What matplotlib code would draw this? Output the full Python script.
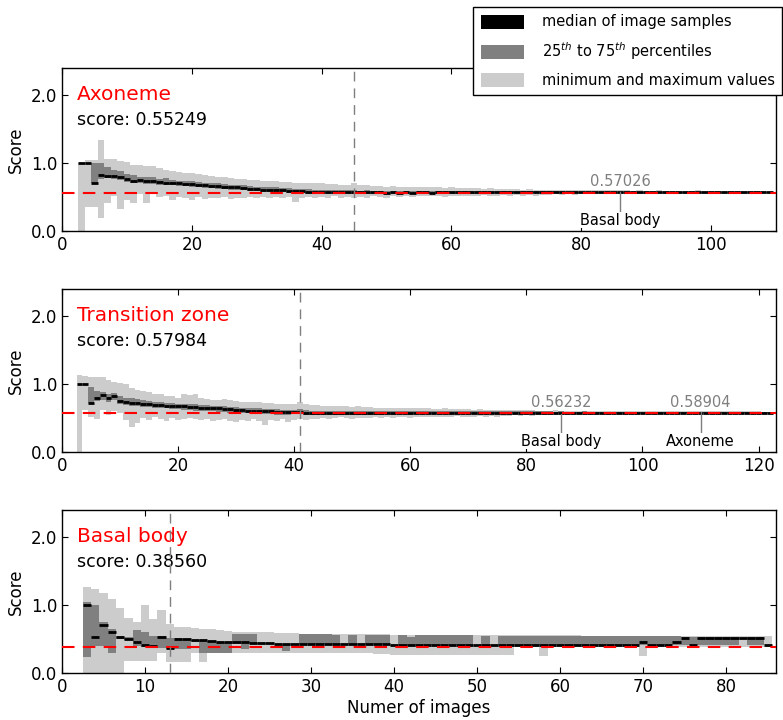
import numpy as np
import matplotlib
matplotlib.use("Agg")
import matplotlib.pyplot as plt
from matplotlib.patches import Patch

# ---------------- data ----------------
# Panel 1: Axoneme (x = 3 .. 109)
ax_min = [0.00, 0.36, 0.36, 0.19, 0.41, 0.51, 0.33, 0.46, 0.41, 0.55,
          0.41, 0.55, 0.50, 0.52, 0.46, 0.50, 0.48, 0.46, 0.50, 0.47,
          0.49, 0.48, 0.50, 0.47, 0.49, 0.48, 0.50, 0.48, 0.50, 0.49,
          0.50, 0.48, 0.50, 0.43, 0.49, 0.50, 0.48, 0.50, 0.49, 0.51,
          0.48, 0.50, 0.48, 0.50, 0.49, 0.51, 0.50, 0.49, 0.51, 0.50,
          0.51, 0.50, 0.52, 0.51, 0.51, 0.52, 0.50, 0.52, 0.51, 0.52,
          0.51, 0.52, 0.53, 0.51, 0.52, 0.53, 0.52, 0.53, 0.52, 0.53,
          0.52, 0.53, 0.53, 0.54, 0.53, 0.54, 0.53, 0.54, 0.54, 0.54,
          0.54, 0.55, 0.54, 0.55, 0.55, 0.54, 0.55, 0.55, 0.55, 0.54,
          0.55, 0.55, 0.55, 0.55, 0.55, 0.54, 0.55, 0.55, 0.56, 0.55,
          0.55, 0.56, 0.55, 0.56, 0.55, 0.56, 0.56]
ax_q25 = [1.00, 1.00, 0.70, 0.77, 0.78, 0.76, 0.75, 0.72, 0.70, 0.70,
          0.69, 0.69, 0.68, 0.67, 0.67, 0.66, 0.66, 0.65, 0.64, 0.63,
          0.63, 0.62, 0.62, 0.61, 0.61, 0.60, 0.59, 0.59, 0.58, 0.58,
          0.57, 0.57, 0.56, 0.56, 0.56, 0.55, 0.55, 0.55, 0.55, 0.54,
          0.54, 0.54, 0.55, 0.54, 0.54, 0.55, 0.54, 0.54, 0.55, 0.54,
          0.55, 0.54, 0.55, 0.55, 0.54, 0.55, 0.55, 0.55, 0.55, 0.55,
          0.55, 0.55, 0.55, 0.55, 0.56, 0.55, 0.55, 0.56, 0.55, 0.56,
          0.56, 0.56, 0.56, 0.56, 0.56, 0.56, 0.56, 0.56, 0.56, 0.56,
          0.56, 0.56, 0.56, 0.56, 0.56, 0.56, 0.56, 0.56, 0.56, 0.56,
          0.56, 0.56, 0.56, 0.56, 0.56, 0.56, 0.56, 0.56, 0.56, 0.56,
          0.56, 0.56, 0.56, 0.56, 0.56, 0.56, 0.56]
ax_med = [1.00, 1.00, 0.70, 0.83, 0.81, 0.81, 0.80, 0.76, 0.74, 0.75,
          0.74, 0.73, 0.72, 0.71, 0.71, 0.70, 0.69, 0.69, 0.68, 0.67,
          0.66, 0.66, 0.65, 0.64, 0.64, 0.63, 0.62, 0.62, 0.61, 0.61,
          0.60, 0.60, 0.59, 0.59, 0.59, 0.58, 0.58, 0.58, 0.58, 0.57,
          0.57, 0.57, 0.58, 0.57, 0.57, 0.57, 0.57, 0.56, 0.57, 0.56,
          0.57, 0.56, 0.57, 0.57, 0.56, 0.57, 0.57, 0.57, 0.57, 0.57,
          0.57, 0.57, 0.57, 0.57, 0.57, 0.57, 0.57, 0.57, 0.57, 0.57,
          0.57, 0.57, 0.57, 0.57, 0.58, 0.57, 0.57, 0.57, 0.57, 0.57,
          0.57, 0.57, 0.57, 0.57, 0.57, 0.57, 0.57, 0.57, 0.57, 0.57,
          0.57, 0.57, 0.57, 0.57, 0.57, 0.57, 0.57, 0.57, 0.57, 0.57,
          0.57, 0.57, 0.57, 0.57, 0.57, 0.57, 0.57]
ax_q75 = [1.00, 1.00, 1.00, 1.00, 0.94, 0.90, 0.88, 0.84, 0.82, 0.80,
          0.79, 0.79, 0.77, 0.78, 0.75, 0.74, 0.74, 0.73, 0.72, 0.71,
          0.70, 0.70, 0.69, 0.67, 0.68, 0.67, 0.66, 0.65, 0.65, 0.65,
          0.64, 0.63, 0.63, 0.62, 0.62, 0.62, 0.61, 0.61, 0.61, 0.60,
          0.60, 0.60, 0.60, 0.59, 0.60, 0.59, 0.59, 0.59, 0.59, 0.59,
          0.59, 0.59, 0.59, 0.59, 0.59, 0.59, 0.59, 0.59, 0.59, 0.59,
          0.59, 0.59, 0.59, 0.59, 0.59, 0.59, 0.59, 0.59, 0.59, 0.59,
          0.59, 0.59, 0.59, 0.59, 0.59, 0.58, 0.59, 0.58, 0.58, 0.58,
          0.58, 0.58, 0.58, 0.58, 0.58, 0.58, 0.58, 0.58, 0.58, 0.58,
          0.58, 0.58, 0.58, 0.58, 0.58, 0.58, 0.58, 0.58, 0.58, 0.58,
          0.58, 0.58, 0.58, 0.58, 0.58, 0.58, 0.58]
ax_max = [1.00, 1.05, 1.05, 1.34, 1.06, 1.06, 1.03, 1.02, 0.97, 0.97,
          0.96, 0.95, 0.92, 0.90, 0.88, 0.87, 0.86, 0.85, 0.84, 0.82,
          0.81, 0.80, 0.80, 0.78, 0.77, 0.76, 0.75, 0.75, 0.74, 0.73,
          0.73, 0.72, 0.72, 0.71, 0.71, 0.70, 0.70, 0.70, 0.69, 0.69,
          0.68, 0.68, 0.70, 0.67, 0.67, 0.66, 0.66, 0.65, 0.66, 0.65,
          0.65, 0.64, 0.65, 0.64, 0.64, 0.64, 0.63, 0.64, 0.63, 0.63,
          0.63, 0.63, 0.62, 0.63, 0.62, 0.62, 0.62, 0.62, 0.61, 0.62,
          0.61, 0.61, 0.61, 0.61, 0.61, 0.61, 0.60, 0.61, 0.60, 0.60,
          0.60, 0.60, 0.60, 0.60, 0.60, 0.59, 0.60, 0.59, 0.59, 0.60,
          0.59, 0.59, 0.59, 0.59, 0.59, 0.60, 0.59, 0.59, 0.59, 0.59,
          0.59, 0.59, 0.59, 0.59, 0.59, 0.59, 0.58]

# Panel 2: Transition zone (x = 3 .. 122)
tz_min = [0.00, 0.62, 0.52, 0.49, 0.62, 0.55, 0.60, 0.57, 0.47, 0.37,
          0.42, 0.50, 0.47, 0.52, 0.48, 0.46, 0.50, 0.47, 0.48, 0.50,
          0.49, 0.47, 0.48, 0.46, 0.47, 0.48, 0.46, 0.44, 0.47, 0.45,
          0.48, 0.46, 0.40, 0.47, 0.46, 0.48, 0.44, 0.47, 0.48, 0.47,
          0.48, 0.49, 0.50, 0.49, 0.50, 0.51, 0.50, 0.49, 0.50, 0.50,
          0.50, 0.51, 0.50, 0.51, 0.50, 0.51, 0.52, 0.50, 0.51, 0.52,
          0.51, 0.52, 0.52, 0.51, 0.52, 0.53, 0.52, 0.51, 0.52, 0.53,
          0.52, 0.53, 0.52, 0.53, 0.53, 0.54, 0.53, 0.54, 0.53, 0.54,
          0.54, 0.54, 0.55, 0.54, 0.55, 0.54, 0.55, 0.55, 0.54, 0.55,
          0.55, 0.55, 0.56, 0.55, 0.55, 0.56, 0.55, 0.56, 0.56, 0.55,
          0.56, 0.56, 0.56, 0.56, 0.57, 0.56, 0.56, 0.57, 0.56, 0.57,
          0.57, 0.57, 0.56, 0.57, 0.57, 0.57, 0.57, 0.57, 0.57, 0.57]
tz_q25 = [1.00, 1.00, 0.72, 0.75, 0.76, 0.74, 0.76, 0.70, 0.69, 0.68,
          0.67, 0.66, 0.66, 0.65, 0.64, 0.64, 0.63, 0.63, 0.62, 0.62,
          0.61, 0.61, 0.60, 0.60, 0.59, 0.59, 0.58, 0.58, 0.57, 0.57,
          0.57, 0.56, 0.56, 0.56, 0.55, 0.55, 0.55, 0.56, 0.56, 0.55,
          0.55, 0.55, 0.55, 0.55, 0.55, 0.55, 0.55, 0.55, 0.55, 0.55,
          0.55, 0.55, 0.55, 0.56, 0.55, 0.56, 0.56, 0.55, 0.56, 0.56,
          0.56, 0.56, 0.56, 0.56, 0.56, 0.56, 0.56, 0.56, 0.56, 0.56,
          0.56, 0.57, 0.56, 0.57, 0.57, 0.57, 0.57, 0.57, 0.57, 0.57,
          0.57, 0.57, 0.57, 0.57, 0.57, 0.56, 0.57, 0.57, 0.57, 0.57,
          0.57, 0.57, 0.57, 0.57, 0.57, 0.57, 0.57, 0.57, 0.57, 0.57,
          0.57, 0.57, 0.57, 0.57, 0.57, 0.57, 0.57, 0.57, 0.57, 0.57,
          0.57, 0.57, 0.57, 0.57, 0.58, 0.57, 0.58, 0.58, 0.58, 0.58]
tz_med = [1.00, 1.00, 0.72, 0.79, 0.84, 0.79, 0.83, 0.75, 0.74, 0.72,
          0.72, 0.71, 0.70, 0.69, 0.69, 0.68, 0.68, 0.67, 0.67, 0.66,
          0.66, 0.65, 0.65, 0.64, 0.64, 0.63, 0.63, 0.62, 0.62, 0.61,
          0.61, 0.60, 0.60, 0.60, 0.59, 0.59, 0.59, 0.59, 0.59, 0.58,
          0.58, 0.58, 0.58, 0.58, 0.58, 0.58, 0.58, 0.58, 0.57, 0.57,
          0.57, 0.57, 0.57, 0.58, 0.57, 0.58, 0.58, 0.57, 0.58, 0.58,
          0.58, 0.58, 0.58, 0.58, 0.58, 0.58, 0.58, 0.58, 0.58, 0.58,
          0.58, 0.58, 0.58, 0.58, 0.58, 0.58, 0.58, 0.58, 0.58, 0.58,
          0.58, 0.58, 0.58, 0.58, 0.58, 0.58, 0.58, 0.58, 0.58, 0.58,
          0.58, 0.58, 0.58, 0.58, 0.58, 0.58, 0.58, 0.58, 0.58, 0.58,
          0.58, 0.58, 0.58, 0.58, 0.58, 0.58, 0.58, 0.58, 0.58, 0.58,
          0.58, 0.58, 0.58, 0.58, 0.58, 0.58, 0.58, 0.58, 0.58, 0.58]
tz_q75 = [1.00, 1.00, 0.96, 0.90, 0.88, 0.86, 0.87, 0.82, 0.80, 0.79,
          0.78, 0.76, 0.75, 0.74, 0.73, 0.72, 0.72, 0.71, 0.71, 0.70,
          0.70, 0.69, 0.69, 0.68, 0.67, 0.67, 0.66, 0.66, 0.65, 0.65,
          0.64, 0.64, 0.63, 0.63, 0.63, 0.62, 0.62, 0.62, 0.63, 0.62,
          0.61, 0.61, 0.61, 0.61, 0.61, 0.60, 0.60, 0.60, 0.60, 0.60,
          0.60, 0.60, 0.60, 0.60, 0.60, 0.60, 0.60, 0.60, 0.60, 0.60,
          0.60, 0.60, 0.60, 0.60, 0.60, 0.60, 0.60, 0.60, 0.60, 0.60,
          0.60, 0.60, 0.60, 0.60, 0.60, 0.60, 0.60, 0.60, 0.60, 0.60,
          0.60, 0.60, 0.59, 0.60, 0.59, 0.59, 0.59, 0.60, 0.59, 0.59,
          0.59, 0.59, 0.59, 0.59, 0.59, 0.59, 0.59, 0.59, 0.59, 0.59,
          0.59, 0.59, 0.59, 0.59, 0.59, 0.59, 0.59, 0.59, 0.59, 0.59,
          0.59, 0.59, 0.59, 0.59, 0.59, 0.59, 0.59, 0.59, 0.59, 0.59]
tz_max = [1.13, 1.12, 1.11, 1.10, 1.10, 1.06, 1.03, 1.02, 1.00, 0.94,
          0.91, 0.90, 0.88, 0.86, 0.85, 0.83, 0.82, 0.80, 0.86, 0.84,
          0.85, 0.79, 0.78, 0.77, 0.77, 0.78, 0.76, 0.75, 0.74, 0.74,
          0.73, 0.73, 0.72, 0.72, 0.71, 0.71, 0.70, 0.70, 0.73, 0.70,
          0.69, 0.69, 0.68, 0.68, 0.67, 0.67, 0.67, 0.66, 0.67, 0.66,
          0.66, 0.65, 0.65, 0.65, 0.64, 0.65, 0.64, 0.64, 0.64, 0.64,
          0.64, 0.63, 0.63, 0.64, 0.63, 0.63, 0.63, 0.63, 0.62, 0.63,
          0.62, 0.62, 0.62, 0.62, 0.62, 0.62, 0.62, 0.62, 0.62, 0.61,
          0.61, 0.61, 0.62, 0.61, 0.61, 0.61, 0.61, 0.61, 0.61, 0.61,
          0.61, 0.61, 0.60, 0.61, 0.60, 0.60, 0.61, 0.60, 0.60, 0.60,
          0.60, 0.60, 0.60, 0.60, 0.60, 0.60, 0.60, 0.60, 0.60, 0.60,
          0.60, 0.60, 0.60, 0.60, 0.60, 0.60, 0.60, 0.60, 0.59, 0.59]

# Panel 3: Basal body (x = 3 .. 85)
bb_min = [0.00, 0.00, 0.00, 0.00, 0.00, 0.17, 0.17, 0.17, 0.17, 0.29,
          0.16, 0.16, 0.16, 0.29, 0.16, 0.29, 0.29, 0.29, 0.29, 0.29,
          0.29, 0.29, 0.29, 0.29, 0.29, 0.29, 0.29, 0.29, 0.29, 0.29,
          0.29, 0.29, 0.29, 0.29, 0.29, 0.28, 0.28, 0.27, 0.27, 0.27,
          0.27, 0.27, 0.27, 0.27, 0.27, 0.27, 0.27, 0.27, 0.27, 0.27,
          0.27, 0.27, 0.38, 0.38, 0.38, 0.25, 0.38, 0.38, 0.38, 0.38,
          0.38, 0.38, 0.38, 0.38, 0.38, 0.38, 0.38, 0.25, 0.38, 0.38,
          0.38, 0.38, 0.38, 0.38, 0.38, 0.38, 0.38, 0.38, 0.38, 0.38,
          0.38, 0.38, 0.38]
bb_q25 = [0.24, 0.40, 0.40, 0.30, 0.50, 0.48, 0.40, 0.38, 0.37, 0.37,
          0.35, 0.35, 0.36, 0.46, 0.30, 0.30, 0.30, 0.30, 0.43, 0.35,
          0.43, 0.43, 0.43, 0.43, 0.33, 0.43, 0.42, 0.42, 0.42, 0.42,
          0.42, 0.42, 0.42, 0.42, 0.42, 0.42, 0.42, 0.41, 0.41, 0.41,
          0.41, 0.41, 0.41, 0.41, 0.41, 0.41, 0.41, 0.41, 0.41, 0.41,
          0.41, 0.41, 0.41, 0.41, 0.41, 0.41, 0.41, 0.41, 0.41, 0.41,
          0.41, 0.41, 0.41, 0.41, 0.41, 0.41, 0.41, 0.41, 0.41, 0.41,
          0.41, 0.41, 0.41, 0.41, 0.41, 0.41, 0.41, 0.41, 0.41, 0.41,
          0.41, 0.41, 0.41]
bb_med = [1.00, 0.53, 0.71, 0.61, 0.53, 0.50, 0.45, 0.41, 0.39, 0.53,
          0.37, 0.50, 0.50, 0.49, 0.48, 0.47, 0.46, 0.45, 0.45, 0.45,
          0.44, 0.44, 0.44, 0.43, 0.43, 0.43, 0.43, 0.43, 0.43, 0.42,
          0.42, 0.42, 0.42, 0.42, 0.42, 0.42, 0.42, 0.41, 0.41, 0.41,
          0.41, 0.41, 0.41, 0.41, 0.41, 0.41, 0.41, 0.41, 0.41, 0.41,
          0.41, 0.41, 0.41, 0.41, 0.41, 0.41, 0.41, 0.41, 0.41, 0.41,
          0.41, 0.41, 0.41, 0.41, 0.41, 0.41, 0.41, 0.46, 0.41, 0.41,
          0.41, 0.45, 0.51, 0.41, 0.51, 0.51, 0.51, 0.51, 0.51, 0.51,
          0.51, 0.51, 0.41]
bb_q75 = [1.05, 1.00, 0.75, 0.65, 0.55, 0.53, 0.63, 0.60, 0.55, 0.55,
          0.51, 0.51, 0.50, 0.49, 0.48, 0.47, 0.46, 0.45, 0.57, 0.57,
          0.58, 0.44, 0.44, 0.43, 0.43, 0.43, 0.57, 0.57, 0.57, 0.57,
          0.56, 0.42, 0.56, 0.42, 0.56, 0.56, 0.56, 0.41, 0.56, 0.53,
          0.56, 0.56, 0.56, 0.56, 0.56, 0.56, 0.56, 0.41, 0.55, 0.41,
          0.55, 0.55, 0.55, 0.55, 0.55, 0.55, 0.55, 0.55, 0.55, 0.55,
          0.54, 0.54, 0.54, 0.54, 0.54, 0.54, 0.54, 0.54, 0.54, 0.54,
          0.54, 0.54, 0.53, 0.53, 0.53, 0.53, 0.53, 0.53, 0.53, 0.41,
          0.53, 0.53, 0.41]
bb_max = [1.26, 1.23, 1.17, 1.09, 0.95, 0.81, 0.75, 1.00, 0.80, 0.92,
          0.72, 0.68, 0.67, 0.66, 0.65, 0.64, 0.63, 0.62, 0.61, 0.61,
          0.60, 0.60, 0.60, 0.59, 0.59, 0.59, 0.58, 0.58, 0.58, 0.58,
          0.58, 0.58, 0.58, 0.57, 0.57, 0.57, 0.57, 0.56, 0.56, 0.56,
          0.56, 0.56, 0.56, 0.56, 0.56, 0.56, 0.56, 0.56, 0.56, 0.56,
          0.56, 0.56, 0.56, 0.56, 0.56, 0.56, 0.56, 0.56, 0.56, 0.56,
          0.55, 0.55, 0.55, 0.55, 0.55, 0.55, 0.55, 0.55, 0.55, 0.55,
          0.55, 0.55, 0.55, 0.55, 0.55, 0.55, 0.55, 0.55, 0.55, 0.55,
          0.55, 0.55, 0.55]

titles = ["Axoneme", "Transition zone", "Basal body"]
scores = [0.55249, 0.57984, 0.38560]
vlines_at = [45, 41, 13]
x_limits = [110, 123, 86]
x_tick_sets = [[0, 20, 40, 60, 80, 100], [0, 20, 40, 60, 80, 100, 120],
               [0, 10, 20, 30, 40, 50, 60, 70, 80]]
# cross-reference annotations: (x, value, label)
annots = [[(86, 0.57026, "Basal body")],
          [(86, 0.56232, "Basal body"), (110, 0.58904, "Axoneme")],
          []]

panels = [
    (ax_min, ax_q25, ax_med, ax_q75, ax_max),
    (tz_min, tz_q25, tz_med, tz_q75, tz_max),
    (bb_min, bb_q25, bb_med, bb_q75, bb_max),
]

# ---------------- style ----------------
plt.rcParams.update({
    "font.family": ["DejaVu Sans"],
    "xtick.direction": "in", "ytick.direction": "in",
    "xtick.top": True, "ytick.right": True,
    "xtick.major.size": 4, "ytick.major.size": 4,
    "xtick.labelsize": 12, "ytick.labelsize": 12,
    "axes.linewidth": 1.0,
})

LIGHT = "#cccccc"
DARK = "#808080"

fig = plt.figure(figsize=(7.83, 7.2), dpi=100)
W, H = 783.0, 720.0
bottoms_px = [231, 452, 673]
ax_h_px = 163.2
axes = []
for i in range(3):
    b = (H - bottoms_px[i]) / H
    ax = fig.add_axes([62 / W, b, 714 / W, ax_h_px / H])
    axes.append(ax)

for i, ax in enumerate(axes):
    mn, q25, md, q75, mx = [np.asarray(a, dtype=float) for a in panels[i]]
    x = np.arange(3, 3 + len(md))
    ax.bar(x, mx - mn, bottom=mn, width=1.0, color=LIGHT, linewidth=0, zorder=1)
    ax.bar(x, q75 - q25, bottom=q25, width=1.0, color=DARK, linewidth=0, zorder=2)
    ax.hlines(md, x - 0.5, x + 0.5, colors="k", linewidth=2.0, zorder=3)
    ax.axhline(scores[i], color="red", linewidth=1.5, linestyle=(0, (6, 4)), zorder=5)
    ax.axvline(vlines_at[i], color="#7f7f7f", linewidth=1.0, linestyle=(0, (7, 5)), zorder=6)

    ax.set_xlim(0, x_limits[i])
    ax.set_ylim(0, 2.4)
    ax.set_yticks([0.0, 1.0, 2.0])
    ax.set_yticklabels(["0.0", "1.0", "2.0"])
    ax.set_xticks(x_tick_sets[i])
    ax.set_ylabel("Score", fontsize=12)

    ax.text(0.021, 2.0, titles[i], transform=ax.get_yaxis_transform(),
            color="red", fontsize=14.5, ha="left", va="center")
    ax.text(0.021, 1.63, "score: %.5f" % scores[i], transform=ax.get_yaxis_transform(),
            color="k", fontsize=12.5, ha="left", va="center")

    for (xa, va, lab) in annots[i]:
        ax.plot([xa, xa], [va, 0.30], color="#7f7f7f", linewidth=1.0, zorder=7)
        ax.text(xa, 0.73, "%.5f" % va, color="#7f7f7f", fontsize=10.5,
                ha="center", va="center", zorder=8)
        ax.text(xa, 0.16, lab, color="k", fontsize=10.5, ha="center",
                va="center", zorder=8,
                bbox=dict(facecolor="white", edgecolor="none", pad=0.5))

axes[2].set_xlabel("Numer of images", fontsize=12, labelpad=2)

handles = [Patch(facecolor="k", edgecolor="none"),
           Patch(facecolor=DARK, edgecolor="none"),
           Patch(facecolor=LIGHT, edgecolor="none")]
labels = ["median of image samples",
          r"25$^{th}$ to 75$^{th}$ percentiles",
          "minimum and maximum values"]
leg = fig.legend(handles, labels, loc="upper right",
                 bbox_to_anchor=(0.999, 0.990), bbox_transform=fig.transFigure,
                 borderaxespad=0, fontsize=10.5, handlelength=3.0,
                 handleheight=1.1, handletextpad=1.2, labelspacing=0.75,
                 borderpad=0.5, fancybox=False, framealpha=1.0,
                 edgecolor="k")
leg.get_frame().set_linewidth(1.0)
leg.set_zorder(20)

fig.savefig("out.png", dpi=100)
